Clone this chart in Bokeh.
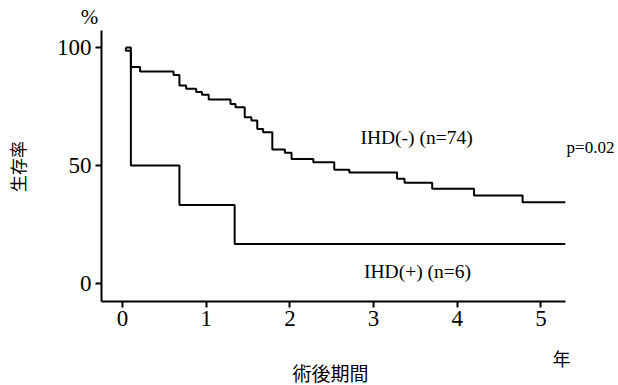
from bokeh.plotting import figure
from bokeh.models import Label, FixedTicker, Range1d
from bokeh.embed import file_html
from bokeh.resources import INLINE
import math

# Kaplan-Meier data (years, survival %)
neg_t = [0.04, 0.04, 0.10, 0.21, 0.61, 0.68, 0.76, 0.88, 0.95, 1.03, 1.29, 1.35, 1.46, 1.54,
         1.61, 1.68, 1.79, 1.94, 2.02, 2.28, 2.53, 2.71, 3.28, 3.37, 3.70, 4.20, 4.78, 5.29]
neg_s = [100, 98.6, 91.7, 89.8, 88.4, 83.9, 82.5, 81.1, 80.0, 78.0, 76.1, 74.7, 70.5, 69.1,
         65.5, 64.1, 56.8, 55.4, 52.8, 51.4, 48.2, 47.0, 44.4, 42.7, 40.1, 37.3, 34.4, 34.4]
pos_t = [0.04, 0.10, 0.68, 1.34, 5.29]
pos_s = [100, 50.0, 33.3, 16.7, 16.7]

x_ticks = [0, 1, 2, 3, 4, 5]
y_ticks = [0, 50, 100]

SERIF = "Liberation Serif"
CJK = "Noto Sans CJK JP"

# axis extents (data units)
X_AXIS_AT = -7.6
Y_AXIS_AT = -0.251
X_END = 5.29
Y_TOP = 107.2

p = figure(width=618, height=385, output_backend="svg", toolbar_location=None,
           x_range=Range1d(-1.4576, 5.926), y_range=Range1d(-43.22, 119.92))
p.min_border = 0
p.outline_line_color = None
p.grid.visible = False
p.background_fill_color = "white"
p.border_fill_color = "white"

for ax in (p.xaxis[0], p.yaxis[0]):
    ax.axis_line_width = 2
    ax.axis_line_color = "black"
    ax.major_tick_line_width = 2
    ax.major_tick_line_color = "black"
    ax.major_tick_out = 6
    ax.major_tick_in = 0
    ax.minor_tick_line_color = None
    ax.major_label_text_font = SERIF
    ax.major_label_text_font_size = "23px"
    ax.major_label_text_color = "black"
    ax.major_label_standoff = 4

p.xaxis[0].ticker = FixedTicker(ticks=x_ticks)
p.yaxis[0].ticker = FixedTicker(ticks=y_ticks)
p.xaxis[0].fixed_location = X_AXIS_AT
p.yaxis[0].fixed_location = Y_AXIS_AT
p.xaxis[0].bounds = (Y_AXIS_AT, X_END)
p.yaxis[0].bounds = (X_AXIS_AT, Y_TOP)

p.step(neg_t, neg_s, mode="after", line_color="black", line_width=2)
p.step(pos_t, pos_s, mode="after", line_color="black", line_width=2)

def lab(text, x, y, font, size, angle=0.0):
    p.add_layout(Label(x=x, y=y, text=text, text_font=font, text_font_size=size,
                       text_align="center", text_baseline="middle", angle=angle,
                       text_color="black"))

lab("%", -0.394, 113.1, SERIF, "21px")
lab("生存率", -1.254, 49.6, CJK, "17px", math.pi / 2)
lab("術後期間", 2.485, -37.7, CJK, "19px")
lab("年", 5.245, -31.4, CJK, "18px")
lab("IHD(-) (n=74)", 3.513, 61.9, SERIF, "19.5px")
lab("p=0.02", 5.591, 57.6, SERIF, "17px")
lab("IHD(+) (n=6)", 3.525, 5.08, SERIF, "19.5px")

open("out.html", "w").write(file_html(p, INLINE))
